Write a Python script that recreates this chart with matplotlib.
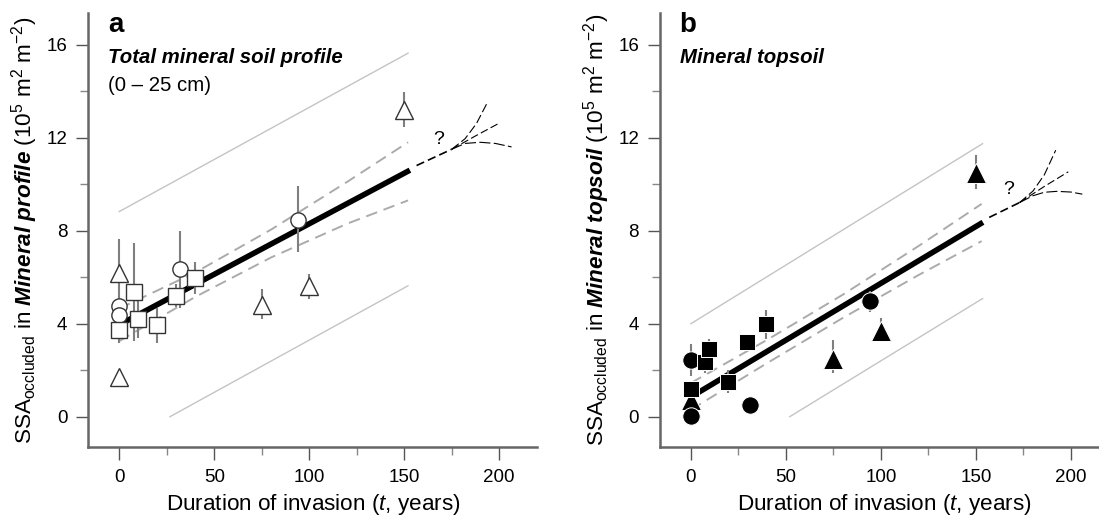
import matplotlib
matplotlib.use('Agg')
import matplotlib.pyplot as plt
from matplotlib.ticker import FixedLocator

plt.rcParams['font.family'] = ['Liberation Sans', 'DejaVu Sans']
plt.rcParams['mathtext.fontset'] = 'custom'
plt.rcParams['mathtext.rm'] = 'Liberation Sans'
plt.rcParams['mathtext.it'] = 'Liberation Sans:italic'
plt.rcParams['mathtext.bf'] = 'Liberation Sans:bold'
plt.rcParams['mathtext.bfit'] = 'Liberation Sans:bold:italic'

# ---------------- Panel a data (open markers) ----------------
a_tri_x = [0, 0, 75, 100, 150]
a_tri_y = [6.2, 1.7, 4.8, 5.6, 13.2]
a_tri_lo = [1.4, 0.0, 0.6, 0.55, 0.75]
a_tri_hi = [1.45, 0.0, 0.7, 0.55, 0.75]

a_cir_x = [0, 0, 32, 94]
a_cir_y = [4.74, 4.36, 6.33, 8.47]
a_cir_lo = [0.3, 0.3, 1.67, 1.4]
a_cir_hi = [0.3, 0.3, 1.67, 1.45]

a_sq_x = [0, 8, 10, 20, 30, 40]
a_sq_y = [3.71, 5.35, 4.2, 3.93, 5.21, 5.96]
a_sq_lo = [0.56, 2.1, 0.8, 0.75, 0.5, 0.7]
a_sq_hi = [0.56, 2.1, 0.8, 0.73, 0.5, 0.68]

a_fit_x = [0, 153]
a_fit_y = [3.95, 10.6]
a_ci_x = [0, 40, 80, 120, 152]
a_ci_up = [4.65, 6.2, 8.05, 10.1, 11.8]
a_ci_lo = [3.25, 5.15, 6.85, 8.3, 9.3]
a_pi_up_x = [0, 152]
a_pi_up_y = [8.82, 15.63]
a_pi_lo_x = [26.7, 152]
a_pi_lo_y = [0.0, 5.63]
a_ext_x = [156.5, 175]
a_ext_y = [10.8, 11.5]
a_fan1_x = [175, 182, 188, 193.7]
a_fan1_y = [11.5, 11.95, 12.6, 13.5]
a_fan2_x = [175, 187, 199.5]
a_fan2_y = [11.5, 12.05, 12.6]
a_fan3_x = [175, 182, 190, 198, 206.5]
a_fan3_y = [11.5, 11.75, 11.8, 11.75, 11.6]
a_q = (168, 11.9)

# ---------------- Panel b data (filled markers) ----------------
b_tri_x = [0, 75, 100, 150]
b_tri_y = [0.72, 2.5, 3.7, 10.5]
b_tri_lo = [0.0, 0.6, 0.5, 0.7]
b_tri_hi = [0.0, 0.8, 0.55, 0.75]

b_cir_x = [0, 0, 31, 94]
b_cir_y = [2.43, 0.05, 0.5, 4.96]
b_cir_lo = [0.7, 0.0, 0.0, 0.45]
b_cir_hi = [0.7, 0.0, 0.0, 0.45]

b_sq_x = [0, 7.4, 9.5, 19.6, 29.3, 39.3]
b_sq_y = [1.21, 2.36, 2.93, 1.5, 3.21, 3.97]
b_sq_lo = [0.3, 0.5, 0.4, 0.5, 0.3, 0.65]
b_sq_hi = [0.3, 0.5, 0.4, 0.5, 0.3, 0.6]

b_fit_x = [0, 153.7]
b_fit_y = [0.85, 8.36]
b_ci_x = [0, 40, 80, 120, 153]
b_ci_up = [1.45, 3.3, 5.25, 7.35, 9.15]
b_ci_lo = [0.3, 2.3, 4.25, 6.1, 7.55]
b_pi_up_x = [0, 153.5]
b_pi_up_y = [4.0, 11.74]
b_pi_lo_x = [52, 153.5]
b_pi_lo_y = [0.0, 5.08]
b_ext_x = [157, 173]
b_ext_y = [8.57, 9.21]
b_fan1_x = [173, 180, 186, 192]
b_fan1_y = [9.21, 9.7, 10.4, 11.46]
b_fan2_x = [173, 186, 198.6]
b_fan2_y = [9.21, 9.9, 10.53]
b_fan3_x = [173, 180, 186, 192.5, 200, 206]
b_fan3_y = [9.21, 9.5, 9.65, 9.69, 9.66, 9.57]
b_q = (167, 9.75)

y_major = [0, 4, 8, 12, 16]
y_minor = [2, 6, 10, 14]
x_major = [0, 50, 100, 150, 200]
x_minor = [25, 75, 125, 175]

fig = plt.figure(figsize=(10.99, 5.19), dpi=100)
ax_a = fig.add_axes([0.0803, 0.1393, 0.408, 0.8357])
ax_b = fig.add_axes([0.6005, 0.1393, 0.408, 0.8357])

SPINE = '#666666'


def style_axes(ax):
    ax.set_xlim(-16.3, 219.7)
    ax.set_ylim(-1.29, 17.36)
    for s in ['top', 'right']:
        ax.spines[s].set_visible(False)
    for s in ['left', 'bottom']:
        ax.spines[s].set_color(SPINE)
        ax.spines[s].set_linewidth(1.8)
    ax.xaxis.set_major_locator(FixedLocator(x_major))
    ax.xaxis.set_minor_locator(FixedLocator(x_minor))
    ax.yaxis.set_major_locator(FixedLocator(y_major))
    ax.yaxis.set_minor_locator(FixedLocator(y_minor))
    ax.tick_params(which='major', length=9, width=1, color='#555555',
                   labelsize=13.5, pad=6)
    ax.tick_params(which='minor', length=6, width=1, color='#888888')
    ax.tick_params(axis='x', which='major', pad=7)


def draw(ax, fit_x, fit_y, ci_x, ci_up, ci_lo, pu_x, pu_y, pl_x, pl_y,
         ext_x, ext_y, fans, q, groups):
    ax.plot(pu_x, pu_y, color='#c4c4c4', lw=1.0, zorder=1)
    ax.plot(pl_x, pl_y, color='#c4c4c4', lw=1.0, zorder=1)
    ax.plot(ci_x, ci_up, color='#ababab', lw=1.4, ls=(0, (6, 3.5)), zorder=1)
    ax.plot(ci_x, ci_lo, color='#ababab', lw=1.4, ls=(0, (6, 3.5)), zorder=1)
    ax.plot(fit_x, fit_y, color='black', lw=4.0, solid_capstyle='butt', zorder=2)
    ax.plot(ext_x, ext_y, color='black', lw=1.2, ls=(0, (5, 2.5)), zorder=2)
    for (fx, fy), dash in zip(fans, [(0, (8, 3)), (0, (7, 3)), (0, (10, 3))]):
        ax.plot(fx, fy, color='black', lw=0.8, ls=dash, zorder=2)
    ax.text(q[0], q[1], '?', fontsize=14, ha='center', va='center')
    for x, y, lo, hi, m, ms, fc, ec, mew in groups:
        ax.errorbar(x, y, yerr=[lo, hi], fmt='none', ecolor='#7f7f7f',
                    elinewidth=1.5, capsize=0, zorder=2.5)
        ax.plot(x, y, ls='none', marker=m, ms=ms, mfc=fc, mec=ec, mew=mew,
                zorder=3)


style_axes(ax_a)
style_axes(ax_b)

OPEN_EC = '#333333'
draw(ax_a, a_fit_x, a_fit_y, a_ci_x, a_ci_up, a_ci_lo,
     a_pi_up_x, a_pi_up_y, a_pi_lo_x, a_pi_lo_y, a_ext_x, a_ext_y,
     [(a_fan1_x, a_fan1_y), (a_fan2_x, a_fan2_y), (a_fan3_x, a_fan3_y)], a_q,
     [(a_tri_x, a_tri_y, a_tri_lo, a_tri_hi, '^', 13, 'white', OPEN_EC, 1.0),
      (a_cir_x, a_cir_y, a_cir_lo, a_cir_hi, 'o', 11, 'white', OPEN_EC, 1.0),
      (a_sq_x, a_sq_y, a_sq_lo, a_sq_hi, 's', 11, 'white', OPEN_EC, 1.0)])

draw(ax_b, b_fit_x, b_fit_y, b_ci_x, b_ci_up, b_ci_lo,
     b_pi_up_x, b_pi_up_y, b_pi_lo_x, b_pi_lo_y, b_ext_x, b_ext_y,
     [(b_fan1_x, b_fan1_y), (b_fan2_x, b_fan2_y), (b_fan3_x, b_fan3_y)], b_q,
     [(b_tri_x, b_tri_y, b_tri_lo, b_tri_hi, '^', 14, 'black', 'white', 0.7),
      (b_cir_x, b_cir_y, b_cir_lo, b_cir_hi, 'o', 12.5, 'black', 'white', 0.7),
      (b_sq_x, b_sq_y, b_sq_lo, b_sq_hi, 's', 12, 'black', 'white', 0.7)])

# texts
ax_a.text(0.044, 0.957, 'a', transform=ax_a.transAxes, fontsize=20,
          fontweight='bold', va='baseline', ha='left')
ax_a.text(0.044, 0.885, 'Total mineral soil profile', transform=ax_a.transAxes,
          fontsize=14.7, fontweight='bold', fontstyle='italic', va='baseline')
ax_a.text(0.044, 0.821, '(0 – 25 cm)', transform=ax_a.transAxes,
          fontsize=14.7, va='baseline')
ax_b.text(0.044, 0.957, 'b', transform=ax_b.transAxes, fontsize=20,
          fontweight='bold', va='baseline', ha='left')
ax_b.text(0.044, 0.885, 'Mineral topsoil', transform=ax_b.transAxes,
          fontsize=14.7, fontweight='bold', fontstyle='italic', va='baseline')

for ax, name in [(ax_a, r'Mineral\ profile'), (ax_b, r'Mineral\ topsoil')]:
    ax.set_ylabel(r'SSA$_{\mathrm{occluded}}$ in $\mathbfit{' + name + r'}$ '
                  r'(10$^{5}$ m$^{2}$ m$^{-2}$)', fontsize=16.2)
    ax.yaxis.set_label_coords(-0.108, 0.5)
    ax.set_xlabel(r'Duration of invasion ($\mathit{t}$, years)', fontsize=16.2)
    ax.xaxis.set_label_coords(0.501, -0.105)

fig.savefig('out.png', dpi=100)
